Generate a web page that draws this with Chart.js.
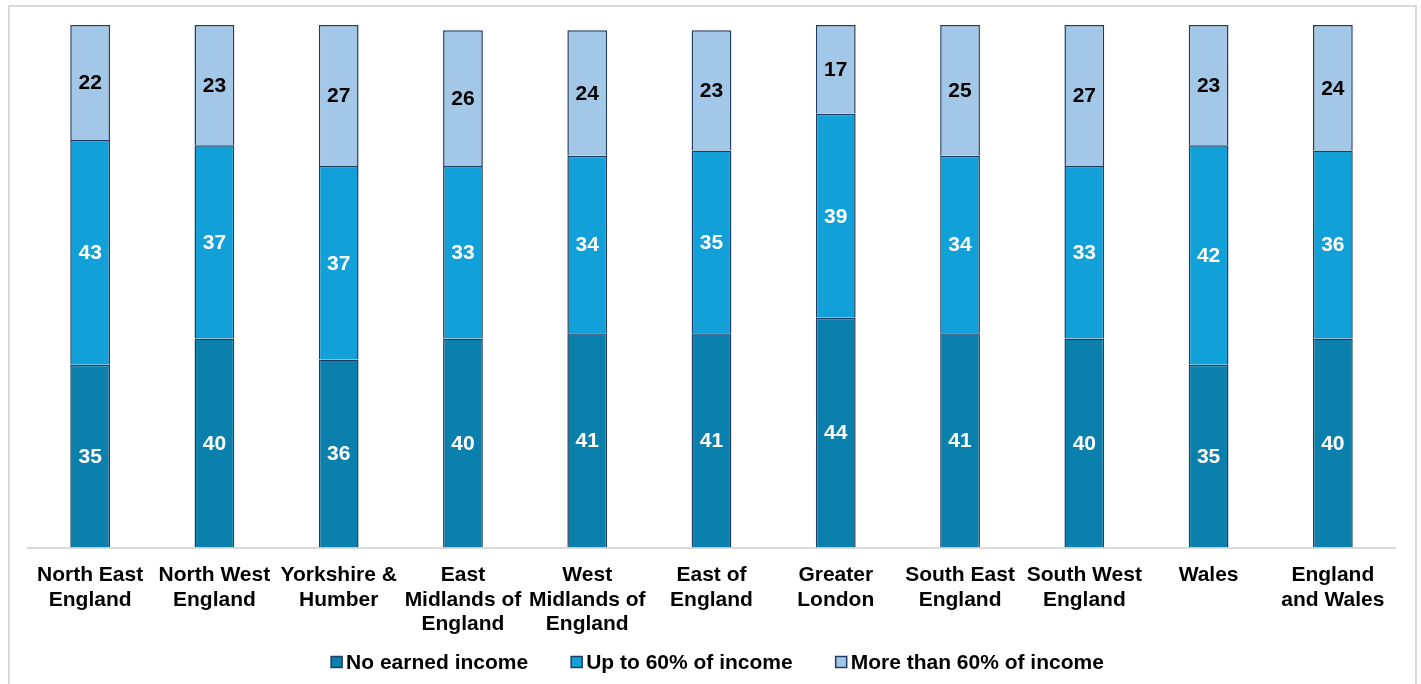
<!DOCTYPE html>
<html>
<head>
<meta charset="utf-8">
<script src="https://cdn.jsdelivr.net/npm/chart.js@4.4.0/dist/chart.umd.min.js"></script>
<style>
  html, body { margin: 0; padding: 0; background: #ffffff; }
  #wrap { width: 1421px; height: 684px; }
</style>
</head>
<body>
<div id="wrap"><canvas id="chart" width="1421" height="684"></canvas></div>
<script>
// Regions (multi-line axis labels)
const regions = [
  ['North East', 'England'],
  ['North West', 'England'],
  ['Yorkshire &', 'Humber'],
  ['East', 'Midlands of', 'England'],
  ['West', 'Midlands of', 'England'],
  ['East of', 'England'],
  ['Greater', 'London'],
  ['South East', 'England'],
  ['South West', 'England'],
  ['Wales'],
  ['England', 'and Wales']
];

// Share of people (%) in each income band
const noEarnedIncome = [35, 40, 36, 40, 41, 41, 44, 41, 40, 35, 40];
const upTo60 = [43, 37, 37, 33, 34, 35, 39, 34, 33, 42, 36];
const moreThan60 = [22, 23, 27, 26, 24, 23, 17, 25, 27, 23, 24];

const seriesNames = ['No earned income', 'Up to 60% of income', 'More than 60% of income'];

const FONT = "'Liberation Sans', Arial, sans-serif";
const BORDER = '#1f3c64';

// Writes each segment's value in the middle of its bar piece
const segmentLabels = {
  id: 'segmentLabels',
  afterDatasetsDraw(chart) {
    const ctx = chart.ctx;
    ctx.save();
    ctx.font = "bold 21px " + FONT;
    ctx.textAlign = 'center';
    ctx.textBaseline = 'middle';
    chart.data.datasets.forEach((ds, di) => {
      const meta = chart.getDatasetMeta(di);
      ctx.fillStyle = di === 2 ? '#000000' : '#ffffff';
      meta.data.forEach((bar, i) => {
        const cy = (bar.y + bar.base) / 2;
        ctx.fillText(String(ds.data[i]), bar.x, cy + 1);
      });
    });
    ctx.restore();
  }
};

// Centred legend row under the axis labels
const bottomLegend = {
  id: 'bottomLegend',
  afterDraw(chart) {
    const ctx = chart.ctx;
    const box = 11, gapText = 4, gapItem = 43, y = 662;
    ctx.save();
    ctx.font = "bold 21px " + FONT;
    ctx.textBaseline = 'middle';
    ctx.textAlign = 'left';
    const items = chart.data.datasets.map(ds => ({
      text: ds.label, color: ds.backgroundColor, w: ctx.measureText(ds.label).width
    }));
    const total = items.reduce((s, it) => s + box + gapText + it.w, 0) + gapItem * (items.length - 1);
    let x = (chart.width - total) / 2 + 7;
    items.forEach(it => {
      ctx.fillStyle = it.color;
      ctx.fillRect(x, y - box / 2, box, box);
      ctx.strokeStyle = BORDER;
      ctx.lineWidth = 1.5;
      ctx.strokeRect(x, y - box / 2, box, box);
      ctx.fillStyle = '#000000';
      ctx.fillText(it.text, x + box + gapText, y + 1);
      x += box + gapText + it.w + gapItem;
    });
    ctx.restore();
  }
};

// Thin grey frame around the chart
const chartFrame = {
  id: 'chartFrame',
  afterDraw(chart) {
    const ctx = chart.ctx;
    ctx.save();
    ctx.strokeStyle = '#d9d9d9';
    ctx.lineWidth = 2;
    ctx.beginPath();
    ctx.moveTo(9, 700);
    ctx.lineTo(9, 6);
    ctx.lineTo(1416, 6);
    ctx.lineTo(1416, 700);
    ctx.stroke();
    ctx.restore();
  }
};

new Chart(document.getElementById('chart'), {
  type: 'bar',
  data: {
    labels: regions,
    datasets: [
      { label: seriesNames[0], data: noEarnedIncome, backgroundColor: '#0b80ac', borderColor: BORDER, borderWidth: 1.5 },
      { label: seriesNames[1], data: upTo60, backgroundColor: '#11a0d7', borderColor: BORDER, borderWidth: 1.5 },
      { label: seriesNames[2], data: moreThan60, backgroundColor: '#a3c8e7', borderColor: BORDER, borderWidth: 1.5 }
    ]
  },
  options: {
    responsive: false,
    animation: false,
    devicePixelRatio: 1,
    layout: { padding: { left: 28, right: 26, top: 25, bottom: 40 } },
    datasets: { bar: { barPercentage: 1, categoryPercentage: 0.32 } },
    scales: {
      x: {
        stacked: true,
        grid: { display: false },
        border: { display: true, color: '#d9d9d9', width: 2 },
        ticks: {
          color: '#000000',
          font: { family: FONT, size: 21, weight: 'bold', lineHeight: 1.15 },
          padding: 8,
          maxRotation: 0,
          autoSkip: false
        }
      },
      y: {
        stacked: true,
        display: false,
        min: 0,
        max: 100
      }
    },
    plugins: {
      legend: { display: false },
      tooltip: { enabled: false }
    }
  },
  plugins: [segmentLabels, bottomLegend, chartFrame]
});
</script>
</body>
</html>
